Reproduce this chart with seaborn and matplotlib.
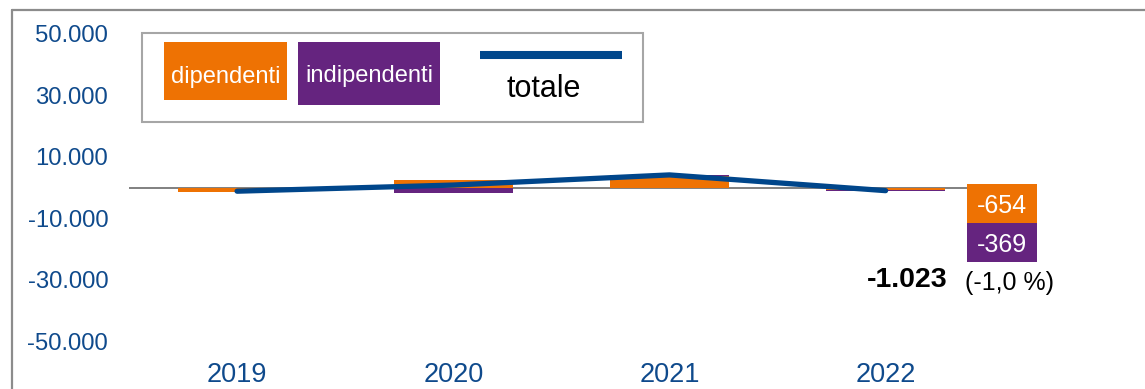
import numpy as np
import pandas as pd
import matplotlib
matplotlib.use("Agg")
import matplotlib.pyplot as plt
from matplotlib.patches import Rectangle
from matplotlib.lines import Line2D
import seaborn as sns

# ---------------- data ----------------
years = ["2019", "2020", "2021", "2022"]
dipendenti = [-1400, 2400, 3800, -654]
indipendenti = [-100, -1900, 300, -369]
totale = [-1200, 800, 4100, -1023]
ytick_values = [50000, 30000, 10000, -10000, -30000, -50000]
ytick_labels = ["50.000", "30.000", "10.000", "-10.000", "-30.000", "-50.000"]
legend_labels = ["dipendenti", "indipendenti", "totale"]
label_dip = "-654"
label_ind = "-369"
label_tot = "-1.023"
label_pct = "(-1,0 %)"

# ---------------- style ----------------
W, H = 1145, 389
sns.set_theme(style="white")
plt.rcParams["font.family"] = ["Liberation Sans", "DejaVu Sans"]

ORANGE = "#EE7203"
PURPLE = "#65247F"
BLUE = "#00468B"
TICK = "#0F4A8C"
GRAY = "#808080"
FRAME = "#8C8C8C"
LEGFRAME = "#A6A6A6"

fig = plt.figure(figsize=(W / 100, H / 100), dpi=100)


def fx(x):
    return x / W


def fy(y):
    return 1 - y / H


ax = fig.add_axes([fx(129), fy(356.4), (W - 129) / W, (356.4 - 9.4) / H])

df = pd.DataFrame({
    "pos": np.arange(len(years)),
    "year": years,
    "dipendenti": dipendenti,
    "indipendenti": indipendenti,
    "totale": totale,
})

dip = df["dipendenti"].to_numpy()
ind = df["indipendenti"].to_numpy()
ind_bottom = np.where(np.sign(ind) == np.sign(dip), dip, 0)

ax.hlines(0, -0.5, 3.376, color=GRAY, lw=1.4, zorder=1)
ax.bar(df["pos"], dip, width=0.55, color=ORANGE, zorder=2, linewidth=0)
ax.bar(df["pos"], ind, bottom=ind_bottom, width=0.55, color=PURPLE, zorder=2, linewidth=0)
sns.lineplot(data=df, x="pos", y="totale", color=BLUE, lw=3.8, ax=ax,
             zorder=3, solid_capstyle="round", legend=False)

ax.set_xlim(-0.5, 4.2)
ax.set_ylim(-55000, 58000)
ax.set_yticks(ytick_values)
ax.set_yticklabels(ytick_labels)
ax.set_xticks(df["pos"])
ax.set_xticklabels(years)
ax.tick_params(axis="y", length=0, pad=15, labelsize=17.2, labelcolor=TICK)
ax.tick_params(axis="x", length=0, pad=4, labelsize=19.5, labelcolor=TICK)
for s in ax.spines.values():
    s.set_visible(False)
ax.set_xlabel("")
ax.set_ylabel("")
ax.grid(False)
ax.patch.set_alpha(0)

# ---------------- outer frame ----------------
fig.add_artist(Line2D([fx(12), fx(12)], [fy(10), 0], color=FRAME, lw=1.6, transform=fig.transFigure))
fig.add_artist(Line2D([fx(12), 1], [fy(10), fy(10)], color=FRAME, lw=1.6, transform=fig.transFigure))

# ---------------- legend ----------------
def rect(x0, y0, x1, y1, **kw):
    fig.add_artist(Rectangle((fx(x0), fy(y1)), (x1 - x0) / W, (y1 - y0) / H,
                             transform=fig.transFigure, **kw))


rect(142, 33, 643, 122, fill=False, edgecolor=LEGFRAME, lw=1.5)
rect(164, 42, 287, 100, facecolor=ORANGE, edgecolor="none")
rect(298, 42, 440, 105, facecolor=PURPLE, edgecolor="none")
fig.text(fx(225.5), fy(82.7), legend_labels[0], color="white", fontsize=17,
         ha="center", va="baseline")
fig.text(fx(369), fy(81.7), legend_labels[1], color="white", fontsize=17,
         ha="center", va="baseline")
fig.add_artist(Line2D([fx(480), fx(622)], [fy(55), fy(55)], color=BLUE, lw=5.8,
                      solid_capstyle="butt", transform=fig.transFigure))
fig.text(fx(544), fy(97), legend_labels[2], color="black", fontsize=22,
         ha="center", va="baseline")

# ---------------- 2022 annotation ----------------
rect(967, 184, 1037, 223, facecolor=ORANGE, edgecolor="none")
rect(967, 223, 1037, 262, facecolor=PURPLE, edgecolor="none")
fig.text(fx(1002), fy(213), label_dip, color="white", fontsize=18, ha="center", va="baseline")
fig.text(fx(1002), fy(252), label_ind, color="white", fontsize=18, ha="center", va="baseline")
fig.text(fx(947), fy(287), label_tot, color="black", fontsize=20.5, fontweight="bold",
         ha="right", va="baseline")
fig.text(fx(1010), fy(290), label_pct, color="black", fontsize=18, ha="center", va="baseline")

fig.savefig("out.png", dpi=100, facecolor="white")
